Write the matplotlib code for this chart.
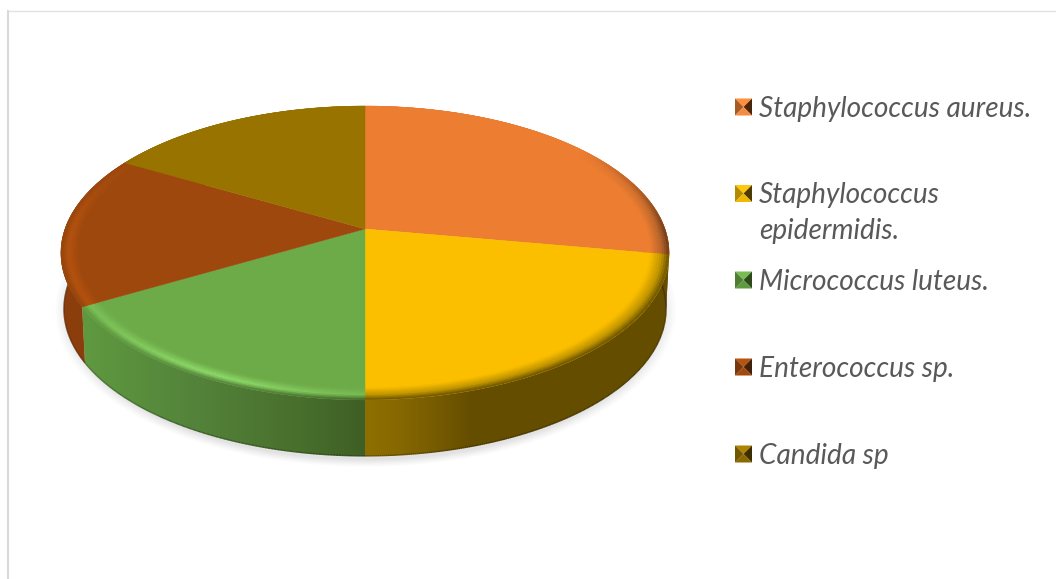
import numpy as np
import matplotlib
matplotlib.use("Agg")
import matplotlib.pyplot as plt
from matplotlib.collections import LineCollection, PolyCollection
from matplotlib.colors import to_rgb
from matplotlib.patches import Polygon

# === Data ===
labels = ["Staphylococcus aureus.", "Staphylococcus\nepidermidis.", "Micrococcus luteus.",
          "Enterococcus sp.", "Candida sp"]
counts = [5, 4, 3, 3, 3]

# === Styles ===
top_colors = ["#ED7D31", "#FBBF00", "#6DAB49", "#9E480E", "#997300"]
# wall shading as (x pixel, colour) stops
wall_stops = [
    [(600, "#7a4015"), (680, "#6b3a18")],
    [(365, "#8f6f00"), (400, "#866800"), (470, "#664e00"), (680, "#654d00")],
    [(80, "#5f9a40"), (200, "#53823a"), (300, "#486f2c"), (365, "#3e5f25")],
    [(55, "#8c3f0c"), (100, "#8a3e0c")],
    [(55, "#6b5100"), (680, "#6b5100")],
]
rim_mid = ["#B8662B", "#BE9300", "#8FDC6A", "#B5530F", "#997300"]
rim_end = ["#6b3a18", "#665000", None, "#94430D", "#6b5100"]
legend_y = [107, 193.5, 280, 367, 454]
legend_top = ["#FF8F3D", "#FFC90A", "#79BC50", "#B5530F", "#AD8300"]
legend_left = ["#A85A25", "#B58A00", "#4F7D33", "#7A370B", "#735700"]
legend_right = ["#4A2508", "#4F3C00", "#2D4A1D", "#43200A", "#3D2E00"]
legend_bottom = ["#F58A42", "#F0B800", "#5F9A3F", "#A04A0F", "#8A6900"]

# perspective disc: apex pixel, radii and tilt
cx, cy = 365.0, 229.0
A, B, p = 300.0, 143.0, 0.163
wall_h = 56.0
bottom_shrink = 0.99
rim_start = 0.94


def project(r, theta):
    # theta runs clockwise from the top of the disc
    u = r * np.sin(theta)
    v = r * np.cos(theta)
    d = 1 + p * v
    return cx + A * u / d, cy - B * v / d


def lerp(a, b, t):
    return np.asarray(a) * (1 - t) + np.asarray(b) * t


def wall_color(stops, x):
    xs = [s[0] for s in stops]
    rgb = [to_rgb(s[1]) for s in stops]
    return np.array([np.interp(x, xs, [c[i] for c in rgb]) for i in range(3)])


fig = plt.figure(figsize=(10.56, 5.79), dpi=100)
ax = fig.add_axes([0, 0, 1, 1])
ax.axis("off")

# chart frame, top and left only
ax.plot([8, 8], [10, 579], color="#D9D9D9", lw=1.5, solid_capstyle="butt", zorder=1)
ax.plot([8, 1056], [10.5, 10.5], color="#E2E2E2", lw=1.0, solid_capstyle="butt", zorder=1)

# soft shadow under the disc
gx, gy = np.meshgrid(np.arange(30, 700), np.arange(240, 490))
dist = np.sqrt(((gx - 365) / 298.0) ** 2 + ((gy - 310) / 150.0) ** 2)
shadow = np.zeros(gx.shape + (4,))
shadow[..., :3] = 0.5
shadow[..., 3] = 0.22 * np.clip((1.045 - dist) / 0.05, 0, 1) ** 1.2
ax.imshow(shadow, extent=(30, 700, 490, 240), aspect="auto", zorder=2, interpolation="bilinear")

edges = np.deg2rad(np.concatenate([[0], np.cumsum(counts)]) * 360.0 / sum(counts))

# walls first, the top surface covers whatever is at the back
for i in range(len(counts)):
    t = np.linspace(edges[i], edges[i + 1], 240)
    x, y = project(1.0, t)
    x_low = cx + (x - cx) * bottom_shrink
    y_low = y + wall_h
    outline = np.c_[np.r_[x, x_low[::-1]], np.r_[y, y_low[::-1]]]
    shell = Polygon(outline, closed=True, transform=ax.transData, fc="none", ec="none")
    ax.add_patch(shell)
    xs = np.arange(np.floor(outline[:, 0].min()), np.ceil(outline[:, 0].max()) + 1)
    grad = np.array([wall_color(wall_stops[i], v) for v in xs])[None, :, :]
    im = ax.imshow(grad, extent=(xs[0], xs[-1], outline[:, 1].max(), outline[:, 1].min()),
                   aspect="auto", zorder=3, interpolation="bilinear")
    im.set_clip_path(shell)
    # thin darker line along the lower edge of the wall
    front = np.cos(t) < 0.2
    pts = np.c_[x_low[front], y_low[front]]
    if len(pts) > 1:
        segs = np.stack([pts[:-1], pts[1:]], axis=1)
        dark = np.array([wall_color(wall_stops[i], v) for v in pts[:-1, 0]]) * 0.72
        ax.add_collection(LineCollection(segs, colors=dark, linewidths=1.0, zorder=3.5))

# top surface of each slice
for i in range(len(counts)):
    t = np.linspace(edges[i], edges[i + 1], 240)
    x, y = project(1.0, t)
    ax.fill(np.r_[cx, x], np.r_[cy, y], color=top_colors[i], lw=0.3, zorder=4)

# bevel around the front of the disc
radii = np.linspace(rim_start, 1.0, 9)
for i in range(len(counts)):
    t = np.linspace(edges[i], edges[i + 1], 160)
    top = np.array(to_rgb(top_colors[i]))
    polys, cols = [], []
    for k in range(len(t) - 1):
        tm = (t[k] + t[k + 1]) / 2
        xm, _ = project(1.0, tm)
        weight = np.clip((0.6 - np.cos(tm)) / 0.6, 0, 1)
        # the highlight on the green slice peaks left of the front
        mid = np.array(to_rgb(rim_mid[i]))
        if i == 2:
            mid = lerp(top, mid, 0.25 + 0.75 * np.exp(-((xm - 210) / 110.0) ** 2))
        end = wall_color(wall_stops[i], xm) if rim_end[i] is None else np.array(to_rgb(rim_end[i]))
        for j in range(len(radii) - 1):
            f = (j + 0.5) / (len(radii) - 1)
            c = lerp(top, mid, f / 0.6) if f < 0.6 else lerp(mid, end, (f - 0.6) / 0.4)
            c = lerp(top, c, weight)
            x0, y0 = project(radii[j], t[k])
            x1, y1 = project(radii[j], t[k + 1])
            x2, y2 = project(radii[j + 1], t[k + 1])
            x3, y3 = project(radii[j + 1], t[k])
            polys.append([(x0, y0), (x1, y1), (x2, y2), (x3, y3)])
            cols.append(c)
    ax.add_collection(PolyCollection(polys, facecolors=cols, edgecolors=cols, linewidths=0.3, zorder=5))

# legend with bevelled markers
for i, lab in enumerate(labels):
    y0 = legend_y[i]
    l, r, t_, b = 735.0, 752.0, y0 - 8.5, y0 + 8.5
    mx, my = (l + r) / 2, (t_ + b) / 2
    ax.fill([l, r, mx], [t_, t_, my], color=legend_top[i], lw=0, zorder=6)
    ax.fill([l, mx, l], [t_, my, b], color=legend_left[i], lw=0, zorder=6)
    ax.fill([r, mx, r], [t_, my, b], color=legend_right[i], lw=0, zorder=6)
    ax.fill([l, r, mx], [b, b, my], color=legend_bottom[i], lw=0, zorder=6)
    for n, line in enumerate(lab.split("\n")):
        ax.text(759, y0 + 10 + n * 36, line, family="Lato", style="italic", fontsize=20.2,
                color="#595959", va="baseline", ha="left", zorder=6)

ax.set_xlim(0, 1056)
ax.set_ylim(579, 0)
fig.savefig("out.png", dpi=100)
